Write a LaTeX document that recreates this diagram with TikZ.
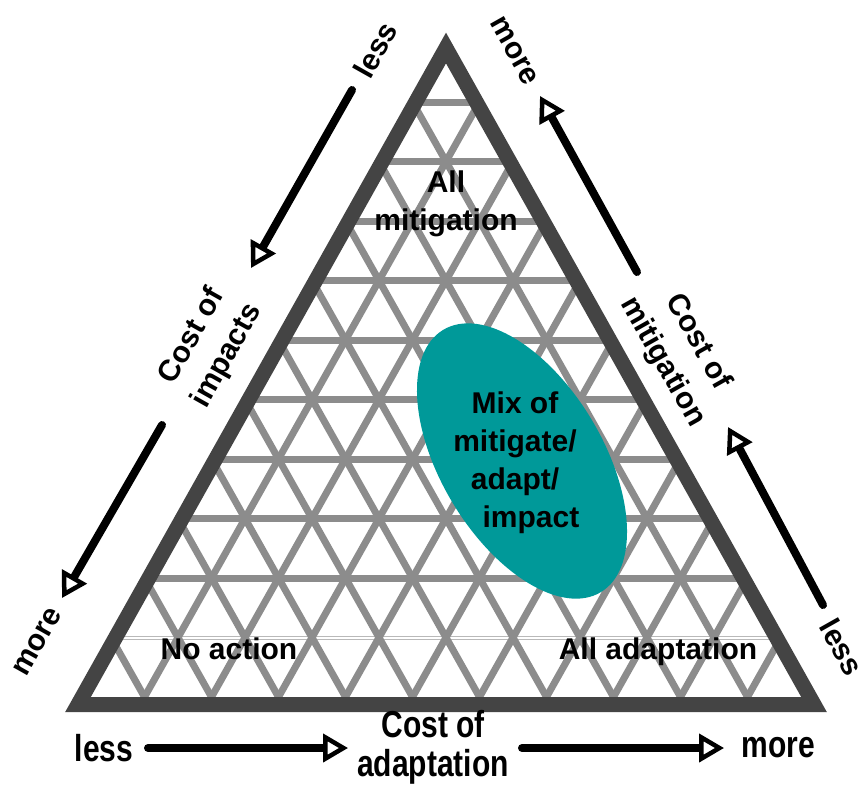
\documentclass[tikz,border=0pt]{standalone}
\usepackage{fontspec}
\usepackage{graphicx}
\setmainfont{Liberation Sans}
\usetikzlibrary{arrows.meta}
\definecolor{bordergray}{RGB}{68,68,68}
\definecolor{gridgray}{RGB}{140,140,140}
\definecolor{tealfill}{RGB}{0,153,153}
\begin{document}
\begin{tikzpicture}[x=1pt,y=-1pt,
  lbl/.style={font=\fontsize{30}{38}\selectfont\bfseries, align=center, inner sep=0pt},
  rlbl/.style={font=\fontsize{30}{40}\selectfont\bfseries, align=center, inner sep=0pt},
  blbl/.style={font=\fontsize{30}{30}\selectfont\bfseries, inner sep=0pt},
  gridline/.style={draw=gridgray, line width=7pt},
  thinline/.style={draw=gray!55, line width=0.7pt},
  costarrow/.style={draw=black, line width=8pt, line cap=round,
    -{Triangle[length=25pt,width=28pt,line width=4.5pt,fill=white]}},
  frame/.style={draw=bordergray, line width=15pt, line join=miter}]
\fill[white] (0,0) rectangle (864,785);
\useasboundingbox (0,0) rectangle (864,785);
% border triangle corners
\coordinate (T) at (446,48);
\coordinate (L) at (78,704.5);
\coordinate (R) at (814,704.5);
% grid
\begin{scope}
  \clip (T) -- (L) -- (R) -- cycle;
  \foreach \k in {1,...,9}{
    \draw[gridline] (0,{42.5+59.5*\k}) -- (864,{42.5+59.5*\k});
  }
  \draw[thinline] (0,636) -- (864,636);
  \draw[thinline] (0,639.5) -- (864,639.5);
  \foreach \j in {1,...,10}{
    \draw[gridline] ({77.5+67*\j},697) -- ({77.5+67*\j+368.5},42.5);
    \draw[gridline] ({77.5+67*\j},697) -- ({77.5+67*\j-368.5},42.5);
  }
\end{scope}
% mix ellipse
\fill[tealfill, rotate around={-59:(522,461)}] (522,461) ellipse [x radius=153, y radius=81];
% frame
\draw[frame] (T) -- (L) -- (R) -- cycle;
% interior labels
\node[lbl] (allmit) at (446,204) {All\\mitigation};
\node[lbl] (mix) at (515,463) {Mix of\\mitigate/\\adapt/\\\hspace*{32pt}impact};
\node[lbl, anchor=base] (noact) at (229,659) {No action};
\node[lbl, anchor=base] (alladapt) at (658,659) {All adaptation};
% left side labels
\node[rlbl, rotate=60.6] (lessL) at (375,50) {less};
\node[rlbl, rotate=60.6] (costimp) at (210,346) {Cost of\\impacts};
\node[rlbl, rotate=60.6] (moreL) at (38,642) {more};
% right side labels
\node[rlbl, rotate=-60.6] (moreR) at (514,51) {more};
\node[rlbl, rotate=-60.6] (costmit) at (680,352) {Cost of\\mitigation};
\node[rlbl, rotate=-60.6] (lessR) at (842,647) {less};
% bottom labels
\node[blbl] (lessB) at (104,748) {\scalebox{1}[1.25]{less}};
\node[blbl] (costad) at (433,749) {\scalebox{1}[1.25]{\begin{tabular}{@{}c@{}}Cost of\\adaptation\end{tabular}}};
\node[blbl] (moreB) at (778,748) {\scalebox{1}[1.25]{more}};
% arrows
\coordinate (a1s) at (352,90);  \coordinate (a1e) at (251,268);
\coordinate (a2s) at (162,425); \coordinate (a2e) at (62,598);
\coordinate (a3s) at (637,272); \coordinate (a3e) at (540,96);
\coordinate (a4s) at (823,605); \coordinate (a4e) at (728,427);
\coordinate (a5s) at (148,748); \coordinate (a5e) at (348,748);
\coordinate (a6s) at (522,748); \coordinate (a6e) at (724,748);
\draw[costarrow] (a1s) -- (a1e);
\draw[costarrow] (a2s) -- (a2e);
\draw[costarrow] (a3s) -- (a3e);
\draw[costarrow] (a4s) -- (a4e);
\draw[costarrow] (a5s) -- (a5e);
\draw[costarrow] (a6s) -- (a6e);
\end{tikzpicture}
\end{document}
